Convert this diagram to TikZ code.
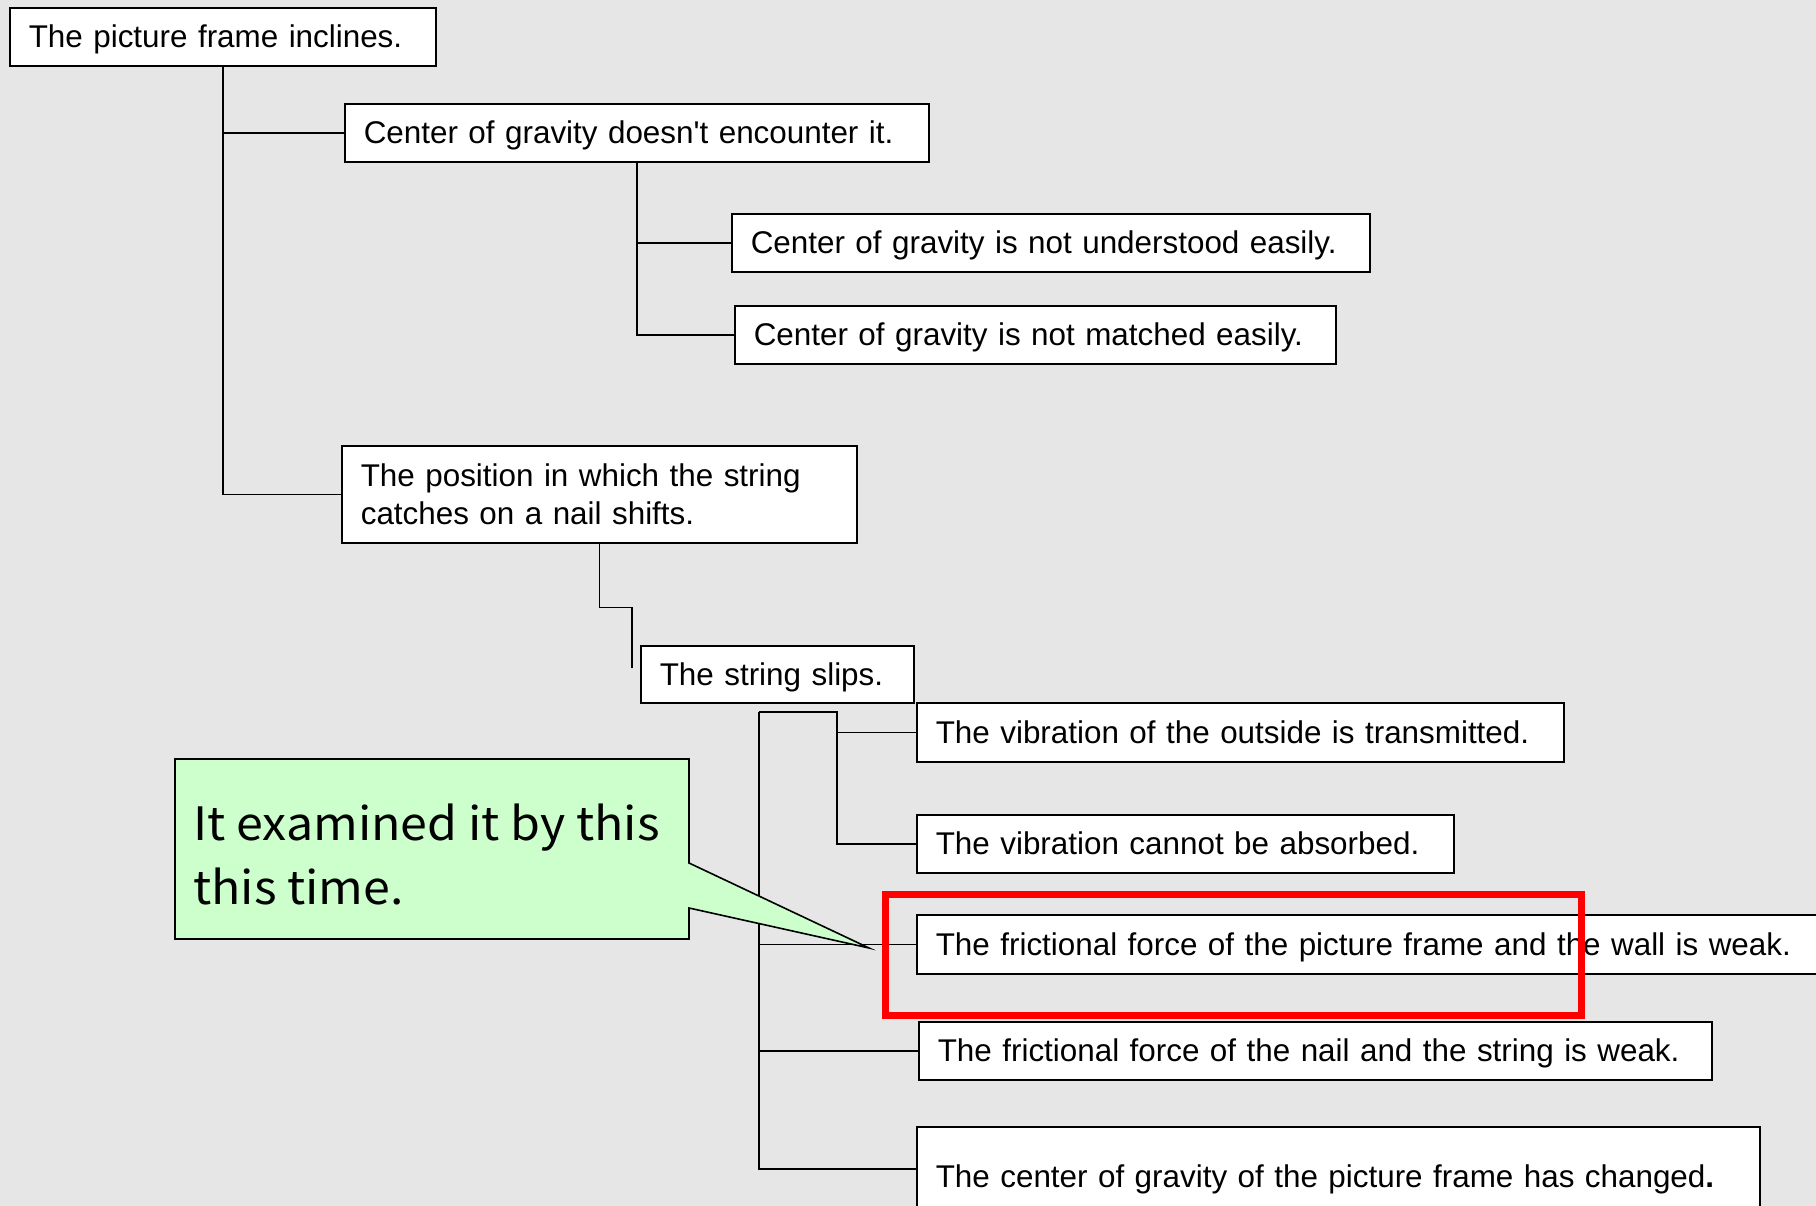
\documentclass[tikz,border=0pt]{standalone}
\usepackage{fontspec}
\setmainfont{Liberation Sans}[Ligatures=TeXOff]
\newfontfamily\notefont[FakeStretch=1.05]{Noto Sans CJK JP}
\definecolor{paper}{RGB}{230,230,230}
\definecolor{notegreen}{RGB}{204,255,204}
\tikzset{
    cause/.style={draw, fill=white, line width=1.6pt, anchor=north west, align=left, inner xsep=19pt, inner ysep=3pt, font=\fontsize{31.4pt}{38pt}\selectfont},
    oneline/.style={text height=29pt, text depth=7pt},
    link/.style={line width=1.6pt},
}
\begin{document}
\begin{tikzpicture}[x=1pt, y=-1pt]
    \fill[paper] (0,0) rectangle (1816,1206);
    \useasboundingbox (0,0) rectangle (1816,1206);

    \node[cause, oneline, text width=388pt, minimum height=58pt] (A) at (9,7) {The picture frame inclines.};
    \node[cause, oneline, text width=546pt, minimum height=58pt] (B) at (344,103) {Center of gravity doesn't encounter it.};
    \node[cause, oneline, text width=600pt, minimum height=58pt] (C) at (731,213) {Center of gravity is not understood easily.};
    \node[cause, oneline, text width=563pt, minimum height=58pt] (D) at (734,305) {Center of gravity is not matched easily.};
    \node[cause, text width=477pt, minimum height=97pt] (E) at (341,445) {The position in which the string\\catches on a nail shifts.};
    \node[cause, oneline, text width=235pt, minimum height=57pt] (F) at (640,645) {The string slips.};
    \node[cause, oneline, text width=609pt, minimum height=59pt] (G) at (916,702) {The vibration of the outside is transmitted.};
    \node[cause, oneline, text width=499pt, minimum height=58pt] (H) at (916,814) {The vibration cannot be absorbed.};
    \node[cause, oneline, text width=886pt, minimum height=59pt] (I) at (916,914) {The frictional force of the picture frame and the wall is weak.};
    \node[cause, oneline, text width=755pt, minimum height=58pt] (J) at (918,1021) {The frictional force of the nail and the string is weak.};
    \node[cause, oneline, text width=805pt, minimum height=100pt] (K) at (916,1126) {The center of gravity of the picture frame has changed\textbf{.}};

    \draw[link] (A.south) |- (B.west);
    \draw[link] (A.south) |- (E.west);
    \draw[link] (B.south) |- (C.west);
    \draw[link] (B.south) |- (D.west);
    \coordinate (slip) at (632,668);
    \draw[link] (E.south) -- ++(0,64) -| (slip);
    \coordinate (fork) at (759,712);
    \coordinate (subfork) at (837,712);
    \draw[link] (fork) -- (subfork) |- (H.west);
    \draw[link] (subfork |- G.west) -- (G.west);
    \draw[link] (fork) |- ([yshift=8pt]K.west);
    \draw[link] (fork |- I.west) -- (I.west);
    \draw[link] (fork |- J.west) -- (J.west);

    \coordinate (tip) at (869,948);
    \draw[line width=1.6pt, fill=notegreen] (175,759) -- (689,759) -- (689,863) -- (tip) -- (689,908) -- (689,939) -- (175,939) -- cycle;
    \node[anchor=west, align=left, inner sep=0pt, font=\notefont\fontsize{46pt}{64pt}\selectfont] (note) at (193,854) {It examined it by this\\this time.};

    \draw[red, line width=7pt] (885.5,894.5) rectangle (1581.5,1015.5);
\end{tikzpicture}
\end{document}
